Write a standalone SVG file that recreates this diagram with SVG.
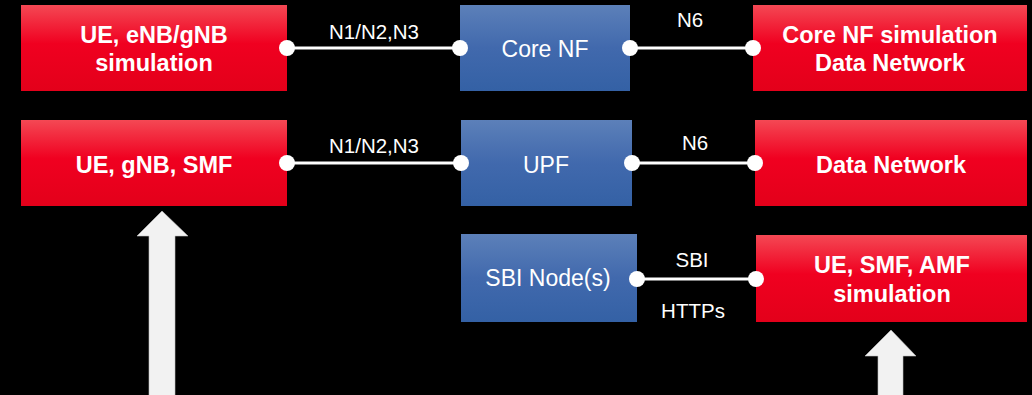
<svg xmlns="http://www.w3.org/2000/svg" width="1032" height="395" viewBox="0 0 1032 395">
<defs>
<linearGradient id="gRed" x1="0" y1="0" x2="0" y2="1">
<stop offset="0" stop-color="#f44854"/>
<stop offset="0.45" stop-color="#f00020"/>
<stop offset="1" stop-color="#e3001a"/>
</linearGradient>
<linearGradient id="gBlue" x1="0" y1="0" x2="0" y2="1">
<stop offset="0" stop-color="#5c80b9"/>
<stop offset="0.5" stop-color="#4169ad"/>
<stop offset="1" stop-color="#3461a5"/>
</linearGradient>
<style>
.red{fill:url(#gRed)}
.blue{fill:url(#gBlue)}
.bt{font-family:"Liberation Sans",Arial,sans-serif;font-weight:bold;font-size:23.5px;fill:#fff;text-anchor:middle}
.nt{font-family:"Liberation Sans",Arial,sans-serif;font-size:23px;fill:#fff;text-anchor:middle}
.lt{font-family:"Liberation Sans",Arial,sans-serif;font-size:20.5px;fill:#fff;text-anchor:middle}
.ln{stroke:#fff;stroke-width:3;fill:none}
.dot{fill:#fff}
.arr{fill:#f2f2f2;stroke:#bfbfbf;stroke-width:0.6}
</style>
</defs>
<rect width="1032" height="395" fill="#000"/>

<g id="ue-enb-sim">
<rect class="red" x="21" y="5" width="266" height="86"/>
<text class="bt" x="154" y="43">UE, eNB/gNB</text>
<text class="bt" x="154" y="71">simulation</text>
</g>
<g id="core-nf">
<rect class="blue" x="460" y="5" width="170" height="86"/>
<text class="nt" x="545" y="57">Core NF</text>
</g>
<g id="core-nf-sim-dn">
<rect class="red" x="753" y="5" width="274" height="86"/>
<text class="bt" x="890" y="43">Core NF simulation</text>
<text class="bt" x="890" y="71">Data Network</text>
</g>

<g id="ue-gnb-smf">
<rect class="red" x="21" y="120" width="266" height="86"/>
<text class="bt" x="154" y="173">UE, gNB, SMF</text>
</g>
<g id="upf">
<rect class="blue" x="461" y="120" width="171" height="86"/>
<text class="nt" x="546" y="173">UPF</text>
</g>
<g id="data-network">
<rect class="red" x="755" y="120" width="272" height="86"/>
<text class="bt" x="891" y="173">Data Network</text>
</g>

<g id="sbi-nodes">
<rect class="blue" x="461" y="234" width="176" height="88"/>
<text class="nt" x="548" y="286">SBI Node(s)</text>
</g>
<g id="ue-smf-amf-sim">
<rect class="red" x="756" y="235" width="271" height="87"/>
<text class="bt" x="892" y="273">UE, SMF, AMF</text>
<text class="bt" x="892" y="302">simulation</text>
</g>

<g id="connectors">
<line class="ln" x1="287" y1="48" x2="460" y2="48"/>
<circle class="dot" cx="287" cy="48" r="8"/>
<circle class="dot" cx="460" cy="48" r="8"/>
<text class="lt" x="374" y="39">N1/N2,N3</text>

<line class="ln" x1="630" y1="48" x2="753" y2="48"/>
<circle class="dot" cx="630" cy="48" r="8"/>
<circle class="dot" cx="753" cy="48" r="8"/>
<text class="lt" x="690" y="27">N6</text>

<line class="ln" x1="287" y1="163" x2="461" y2="163"/>
<circle class="dot" cx="287" cy="163" r="8"/>
<circle class="dot" cx="461" cy="163" r="8"/>
<text class="lt" x="374" y="153">N1/N2,N3</text>

<line class="ln" x1="632" y1="163" x2="755" y2="163"/>
<circle class="dot" cx="632" cy="163" r="8"/>
<circle class="dot" cx="755" cy="163" r="8"/>
<text class="lt" x="695" y="150">N6</text>

<line class="ln" x1="637" y1="279" x2="756" y2="279"/>
<circle class="dot" cx="637" cy="279" r="8"/>
<circle class="dot" cx="756" cy="279" r="8"/>
<text class="lt" x="692" y="267">SBI</text>
<text class="lt" x="693" y="318">HTTPs</text>

<polygon class="arr" points="162,211 188,236 175,236 175,396 149,396 149,236 137,236"/>
<polygon class="arr" points="891,330 916,356 903,356 903,396 878,396 878,356 865,356"/>
</g>
</svg>
